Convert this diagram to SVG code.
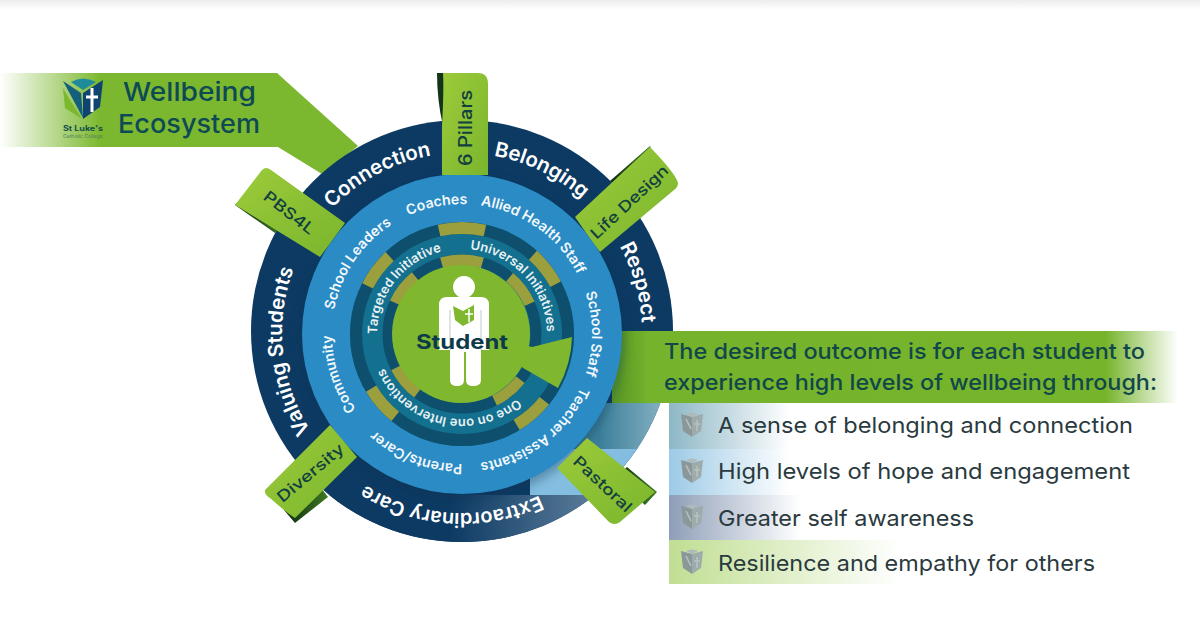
<svg xmlns="http://www.w3.org/2000/svg" width="1200" height="636" viewBox="0 0 1200 636">
<defs>
<style>
text{font-family:Inter,"Open Sans","Liberation Sans",sans-serif;font-variant-ligatures:none}
.o{font-size:20.5px;font-weight:600;fill:#fff;text-anchor:middle}
.m{font-size:14.2px;font-weight:600;fill:#f2f8fb;text-anchor:middle}
.i{font-size:13px;font-weight:600;fill:#e8f2f4;text-anchor:middle}
.r{font-size:15.5px;font-weight:500;fill:#123f3f;text-anchor:middle}
.b{font-size:22px;font-weight:500;fill:#11474a}
.l{font-size:22px;font-weight:400;fill:#2a3a3e}
.t{font-size:26px;font-weight:500;fill:#0e4a55}
.g{fill:url(#rg)}
.d{fill:url(#fold)}
.ol{fill:none;stroke:#9b9f3e}
.dk{fill:none;stroke:#0d4f6c}
</style>
<linearGradient id="top" x1="0" x2="1" y1="0" y2="0"><stop offset="0" stop-color="#fff"/><stop offset=".28" stop-color="#7cb82f"/><stop offset="1" stop-color="#7cb82f"/></linearGradient>
<linearGradient id="bn" gradientUnits="userSpaceOnUse" x1="620" x2="1178" y1="0" y2="0"><stop offset="0" stop-color="#5c9a26"/><stop offset=".05" stop-color="#74b32b"/><stop offset=".87" stop-color="#76b42c"/><stop offset="1" stop-color="#fff"/></linearGradient>
<linearGradient id="rg" x1="0" x2="1" y1="0" y2="1"><stop offset="0" stop-color="#9ccb3a"/><stop offset="1" stop-color="#7ab52d"/></linearGradient>
<linearGradient id="fold" x1="0" x2="1" y1="0" y2="0"><stop offset="0" stop-color="#0c2a14"/><stop offset="1" stop-color="#3f7a22"/></linearGradient>
<linearGradient id="l1" gradientUnits="userSpaceOnUse" x1="669" x2="790" y1="0" y2="0"><stop offset="0" stop-color="#8db7c6"/><stop offset="1" stop-color="#fff"/></linearGradient>
<linearGradient id="l2" gradientUnits="userSpaceOnUse" x1="669" x2="790" y1="0" y2="0"><stop offset="0" stop-color="#9ccae6"/><stop offset="1" stop-color="#fff"/></linearGradient>
<linearGradient id="l3" gradientUnits="userSpaceOnUse" x1="669" x2="800" y1="0" y2="0"><stop offset="0" stop-color="#8e9eb8"/><stop offset="1" stop-color="#fff"/></linearGradient>
<linearGradient id="l4" gradientUnits="userSpaceOnUse" x1="669" x2="900" y1="0" y2="0"><stop offset="0" stop-color="#c0de92"/><stop offset="1" stop-color="#fff"/></linearGradient>
<linearGradient id="r3" gradientUnits="userSpaceOnUse" x1="450" x2="600" y1="0" y2="0"><stop offset="0" stop-color="#0d3a63"/><stop offset="1" stop-color="#5f7f9c"/></linearGradient>
<linearGradient id="r1" gradientUnits="userSpaceOnUse" x1="600" x2="670" y1="0" y2="0"><stop offset="0" stop-color="#3c7f9a"/><stop offset="1" stop-color="#8db7c6"/></linearGradient>
<linearGradient id="top2" x1="0" x2="0" y1="0" y2="1"><stop offset="0" stop-color="#ececec"/><stop offset="1" stop-color="#fff"/></linearGradient>
<clipPath id="oc"><circle cx="462" cy="331" r="211"/></clipPath>
<filter id="sh" x="-20%" y="-20%" width="140%" height="140%"><feGaussianBlur stdDeviation="5"/></filter>
<path id="p180" d="M282 333A180 180 0 0 1 642 333"/>
<path id="p130" d="M332 334A130 130 0 0 1 592 334"/>
<path id="p85" d="M377 334A85 85 0 0 1 547 334"/>
<g id="sh1">
<path d="M0 -8L-11 -11L-9 6L0 12Z" fill="#8a9899"/>
<path d="M0 -8L11 -11L9 6L0 12Z" fill="#9fabab"/>
<path d="M-6 -11Q0 -14 6 -11L0 -8Z" fill="#b0baba"/>
<path d="M-6 -6L-1 4M5 -5V6M2 -1H8" stroke="#b8c2c2" stroke-width="1.5" fill="none"/>
</g>
</defs>
<rect width="1200" height="636" fill="#fff"/>
<rect width="1200" height="10" fill="url(#top2)"/>

<g id="list">
<rect x="669" y="403" width="240" height="46" fill="url(#l1)"/>
<rect x="669" y="449" width="240" height="46" fill="url(#l2)"/>
<rect x="669" y="495" width="240" height="45" fill="url(#l3)"/>
<rect x="669" y="540" width="240" height="44" fill="url(#l4)"/>
<use href="#sh1" x="692" y="425"/>
<use href="#sh1" x="692" y="471"/>
<use href="#sh1" x="692" y="517"/>
<use href="#sh1" x="692" y="562"/>
<text class="l" x="718" y="433" textLength="415" lengthAdjust="spacingAndGlyphs">A sense of belonging and connection</text>
<text class="l" x="718" y="479" textLength="412" lengthAdjust="spacingAndGlyphs">High levels of hope and engagement</text>
<text class="l" x="718" y="526" textLength="256" lengthAdjust="spacingAndGlyphs">Greater self awareness</text>
<text class="l" x="718" y="571" textLength="377" lengthAdjust="spacingAndGlyphs">Resilience and empathy for others</text>
</g>

<g id="title-banner">
<path d="M0 73H277L358 146L322 174L278 147H0Z" fill="url(#top)"/>
<g id="logo">
<path d="M63 88L65 108L82 119L70 100Z" fill="#7cb82f"/>
<path d="M63 81L81 93L83 118Z" fill="#14607c"/>
<path d="M83 93L103 80L100 107L83 119Z" fill="#0f4470"/>
<path d="M71 82Q83 75 96 82L83 90Z" fill="#1f8a9a"/>
<path d="M92 88V112M86 97H98" stroke="#fff" stroke-width="3" fill="none"/>
<text x="83" y="131" font-size="7" font-weight="700" fill="#12504a" text-anchor="middle" textLength="40" lengthAdjust="spacingAndGlyphs">St Luke's</text>
<text x="83" y="138" font-size="4.5" fill="#4a7a5a" text-anchor="middle" textLength="40" lengthAdjust="spacingAndGlyphs">Catholic College</text>
</g>
<text class="t" x="123" y="101" textLength="133" lengthAdjust="spacingAndGlyphs">Wellbeing</text>
<text class="t" x="118" y="133" textLength="142" lengthAdjust="spacingAndGlyphs">Ecosystem</text>
</g>

<g id="outer-ring">
<circle cx="462" cy="331" r="211" fill="#0d3a63"/>
<g clip-path="url(#oc)">
<rect x="530" y="403" width="150" height="46" fill="url(#r1)"/>
<rect x="530" y="449" width="150" height="46" fill="#83bddf"/>
<rect x="250" y="495" width="430" height="50" fill="url(#r3)"/>
</g>
<text class="o" transform="rotate(-28 462 333)"><textPath href="#p180" startOffset="50%">Connection</textPath></text>
<text class="o" transform="rotate(26 462 333)"><textPath href="#p180" startOffset="50%">Belonging</textPath></text>
<text class="o" transform="rotate(74 462 333)"><textPath href="#p180" startOffset="50%">Respect</textPath></text>
<text class="o" transform="rotate(183.5 462 333)" style="font-size:20px"><textPath href="#p180" startOffset="50%">Extraordinary Care</textPath></text>
<text class="o" transform="rotate(264 462 333)"><textPath href="#p180" startOffset="50%">Valuing Students</textPath></text>
</g>

<g id="outcome-banner">
<path d="M612 331H1178V403H612Z" fill="url(#bn)"/>
<text class="b" x="664" y="359" textLength="481" lengthAdjust="spacingAndGlyphs">The desired outcome is for each student to</text>
<text class="b" x="664" y="390" textLength="493" lengthAdjust="spacingAndGlyphs">experience high levels of wellbeing through:</text>
</g>

<g id="blue-ring">
<circle cx="462" cy="338" r="162" fill="#07304f" opacity=".35" filter="url(#sh)"/>
<circle cx="462" cy="334" r="160" fill="#2a8bc5"/>
<text class="m" transform="rotate(-11 462 334)"><textPath href="#p130" startOffset="50%">Coaches</textPath></text>
<text class="m" transform="rotate(35.5 462 334)"><textPath href="#p130" startOffset="50%">Allied Health Staff</textPath></text>
<text class="m" transform="rotate(90 462 334)"><textPath href="#p130" startOffset="50%">School Staff</textPath></text>
<text class="m" transform="rotate(143 462 334)"><textPath href="#p130" startOffset="50%">Teacher Assistants</textPath></text>
<text class="m" transform="rotate(201 462 334)"><textPath href="#p130" startOffset="50%">Parents/Carer</textPath></text>
<text class="m" transform="rotate(252 462 334)"><textPath href="#p130" startOffset="50%">Community</textPath></text>
<text class="m" transform="rotate(-56 462 334)"><textPath href="#p130" startOffset="50%">School Leaders</textPath></text>
</g>

<g id="inner-rings">
<circle cx="462" cy="334" r="112" fill="#14708f"/>
<circle class="dk" cx="462" cy="334" r="106" stroke-width="12"/>
<circle class="dk" cx="462" cy="334" r="74" stroke-width="11"/>
<circle class="ol" cx="462" cy="334" r="106" stroke-width="12" pathLength="360" stroke-dasharray="25 335" transform="rotate(-102.5 462 334)"/>
<circle class="ol" cx="462" cy="334" r="106" stroke-width="12" pathLength="360" stroke-dasharray="20 340" transform="rotate(-48 462 334)"/>
<circle class="ol" cx="462" cy="334" r="106" stroke-width="12" pathLength="360" stroke-dasharray="20 340" transform="rotate(-153 462 334)"/>
<circle class="ol" cx="462" cy="334" r="106" stroke-width="12" pathLength="360" stroke-dasharray="20 340" transform="rotate(129 462 334)"/>
<circle class="ol" cx="462" cy="334" r="106" stroke-width="12" pathLength="360" stroke-dasharray="20 340" transform="rotate(39 462 334)"/>
<circle class="ol" cx="462" cy="334" r="74" stroke-width="11" pathLength="360" stroke-dasharray="32 328" transform="rotate(-106 462 334)"/>
<circle class="ol" cx="462" cy="334" r="74" stroke-width="11" pathLength="360" stroke-dasharray="26 334" transform="rotate(-50 462 334)"/>
<circle class="ol" cx="462" cy="334" r="74" stroke-width="11" pathLength="360" stroke-dasharray="26 334" transform="rotate(-155 462 334)"/>
<circle class="ol" cx="462" cy="334" r="74" stroke-width="11" pathLength="360" stroke-dasharray="26 334" transform="rotate(127 462 334)"/>
<circle class="ol" cx="462" cy="334" r="74" stroke-width="11" pathLength="360" stroke-dasharray="26 334" transform="rotate(38 462 334)"/>
<text class="i" transform="rotate(47 462 334)"><textPath href="#p85" startOffset="50%">Universal Initiatives</textPath></text>
<text class="i" transform="rotate(-52 462 334)"><textPath href="#p85" startOffset="50%">Targeted Initiative</textPath></text>
<text class="i" transform="rotate(193 462 334)"><textPath href="#p85" startOffset="50%">One on one Interventions</textPath></text>
</g>

<g id="student">
<circle cx="461" cy="334" r="69" fill="#7fb82e"/>
<path d="M532 347L572 337A111 111 0 0 1 558 388L523 368L500 340Z" fill="#7fb82e"/>
<circle cx="464" cy="287" r="11" fill="#fff"/>
<path d="M447 297H481Q489 297 489 305V350H481V380Q481 386 473 386Q466 386 466 380V352H464V380Q464 386 457 386Q450 386 450 380V350H439V305Q439 297 447 297Z" fill="#fff"/>
<path d="M450 310V350M481 310V350" stroke="#c4c8c4" stroke-width="1"/>
<path d="M453 306L463 311L474 305V320L463 326L455 320Z" fill="#7fb82e"/>
<path d="M469 309V322M465 314H473" stroke="#fff" stroke-width="1.5"/>
<text x="462" y="349" text-anchor="middle" font-size="20" font-weight="700" fill="#0d3a4a" textLength="92" lengthAdjust="spacingAndGlyphs">Student</text>
</g>

<g id="ribbon-6-pillars">
<path d="M437 73H445V126H443Q437 100 437 73Z" fill="#12351a"/>
<path d="M443 73H478Q488 73 488 84V175H442V126Q444 90 443 73Z" class="g"/>
<text class="r" transform="translate(472 128) rotate(-90)" style="font-size:18px" textLength="76" lengthAdjust="spacingAndGlyphs">6 Pillars</text>
</g>
<g id="ribbon-life-design">
<path d="M610 181L650 146L654 158L620 190Z" class="d"/>
<path d="M575 217L650 147Q676 174 678 183Q678 187 674 190L600 252Q588 236 575 217Z" class="g"/>
<text class="r" transform="translate(633 206) rotate(-43)" textLength="100" lengthAdjust="spacingAndGlyphs">Life Design</text>
</g>
<g id="ribbon-pbs4l">
<path d="M235 205L275 233L284 221L247 194Z" class="d"/>
<path d="M235 205L262 170Q266 166 271 170L345 223L320 257Z" class="g"/>
<text class="r" transform="translate(286 217) rotate(38)" textLength="60" lengthAdjust="spacingAndGlyphs">PBS4L</text>
</g>
<g id="ribbon-diversity">
<path d="M295 523L328 497L318 484L284 510Z" class="d"/>
<path d="M265 490L330 425L357 457L295 518Q288 514 270 498Q264 494 265 490Z" class="g"/>
<text class="r" transform="translate(314 477) rotate(-40)" textLength="82" lengthAdjust="spacingAndGlyphs">Diversity</text>
</g>
<g id="ribbon-pastoral">
<path d="M627 467L657 492L645 505L615 478Z" class="d"/>
<path d="M587 438L655 492L620 522Q615 526 609 522L557 468Z" class="g"/>
<text class="r" transform="translate(599 488) rotate(43)" textLength="74" lengthAdjust="spacingAndGlyphs">Pastoral</text>
</g>
</svg>
